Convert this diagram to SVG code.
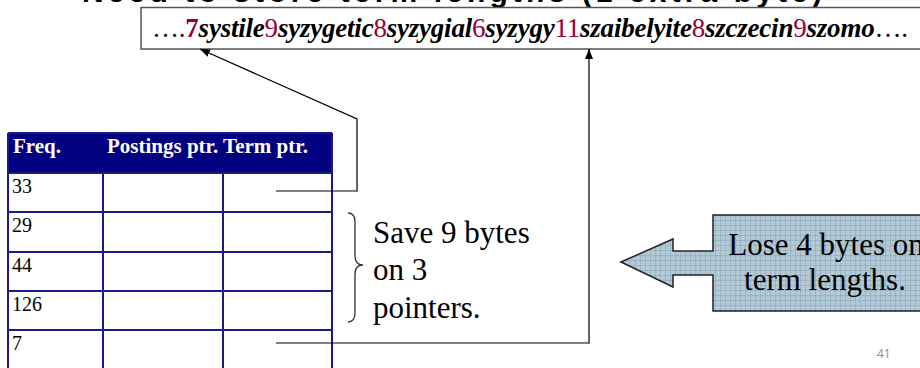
<svg xmlns="http://www.w3.org/2000/svg" width="920" height="368" viewBox="0 0 920 368">
<style>
.serif{font-family:"Liberation Serif","Times New Roman",serif;}
.w{font-weight:bold;font-style:italic;fill:#000;}
.n{fill:#990033;font-weight:normal;font-style:normal;}
.nb{fill:#990033;font-weight:bold;font-style:normal;}
.cell{font-family:"Liberation Serif",serif;font-size:20px;fill:#000;}
.hdr{font-family:"Liberation Serif",serif;font-size:21px;font-weight:bold;fill:#fff;}
.grid{stroke:#1a1a8a;stroke-width:2;fill:none;}
.conn{stroke:#000;stroke-width:1.2;fill:none;marker-end:url(#arr);}
.note{font-family:"Liberation Serif",serif;font-size:31px;fill:#000;}
</style>
<defs>
<marker id="arr" viewBox="0 0 10 10" refX="10" refY="5" markerWidth="10" markerHeight="10" markerUnits="userSpaceOnUse" orient="auto">
<path d="M0,1 L10,5 L0,9 Z" fill="#000"/>
</marker>
<pattern id="gridfill" width="5" height="5" patternUnits="userSpaceOnUse">
<rect width="5" height="5" fill="#B3CAD6"/>
<path d="M0,0.25 H5 M0.25,0 V5" stroke="#7F9DB1" stroke-width="0.6"/>
</pattern>
</defs>
<rect width="920" height="368" fill="#fff"/>

<g id="title">
<text x="82" y="1.5" font-family="Liberation Sans, Arial, sans-serif" font-size="30" font-weight="bold" textLength="740" lengthAdjust="spacing" fill="#000">Need to store term lengths (1 extra byte)</text>
</g>

<g id="string">
<rect x="141" y="7.5" width="790" height="41.5" fill="#fff" stroke="#555" stroke-width="1.5"/>
<text class="serif" x="152" y="37" font-size="27" textLength="756" lengthAdjust="spacing">….<tspan class="nb">7</tspan><tspan class="w">systile</tspan><tspan class="n">9</tspan><tspan class="w">syzygetic</tspan><tspan class="n">8</tspan><tspan class="w">syzygial</tspan><tspan class="n">6</tspan><tspan class="w">syzygy</tspan><tspan class="n">11</tspan><tspan class="w">szaibelyite</tspan><tspan class="n">8</tspan><tspan class="w">szczecin</tspan><tspan class="n">9</tspan><tspan class="w">szomo</tspan>….</text>
</g>

<g id="table">
<rect x="8" y="133" width="324" height="40" fill="#000080"/>
<text class="hdr" x="13" y="153">Freq.</text>
<text class="hdr" x="107" y="153">Postings ptr. Term ptr.</text>
<path class="grid" d="M8,133 V370 M103,173 V370 M223,173 V370 M332,133 V370 M8,173 H332 M8,212 H332 M8,252 H332 M8,291 H332 M8,330 H332 M8,133 H332"/>
<text class="cell" x="12" y="193">33</text>
<text class="cell" x="12" y="232">29</text>
<text class="cell" x="12" y="272">44</text>
<text class="cell" x="12" y="311">126</text>
<text class="cell" x="12" y="350">7</text>
</g>

<g id="save-note">
<path d="M348,213 C353,213 355,216 355,222 L355,256 C355,262 358,265 363,265 C358,265 355,268 355,274 L355,313 C355,319 353,322 348,322" fill="none" stroke="#333" stroke-width="1.3"/>
<text class="note" x="373" y="243">Save 9 bytes</text>
<text class="note" x="373" y="280">on 3</text>
<text class="note" x="373" y="318">pointers.</text>
</g>

<g id="lose-note">
<path d="M621,262 L673,239 L673,251 L713,251 L713,215 L935,215 L935,311 L713,311 L713,275 L673,275 L673,287 Z" fill="url(#gridfill)" stroke="#222" stroke-width="1.5"/>
<text class="note" x="826" y="255" text-anchor="middle" font-size="32">Lose 4 bytes on</text>
<text class="note" x="825" y="290" text-anchor="middle" font-size="32">term lengths.</text>
</g>

<g id="page-number">
<text x="877" y="358" font-family="Open Sans, Liberation Sans, sans-serif" font-size="12" fill="#8c8c8c">41</text>
</g>

<g id="connectors">
<polyline class="conn" points="276,191 357,191 357,119 200,49"/>
<polyline class="conn" points="276,343 589,343 589,49"/>
</g>
</svg>
